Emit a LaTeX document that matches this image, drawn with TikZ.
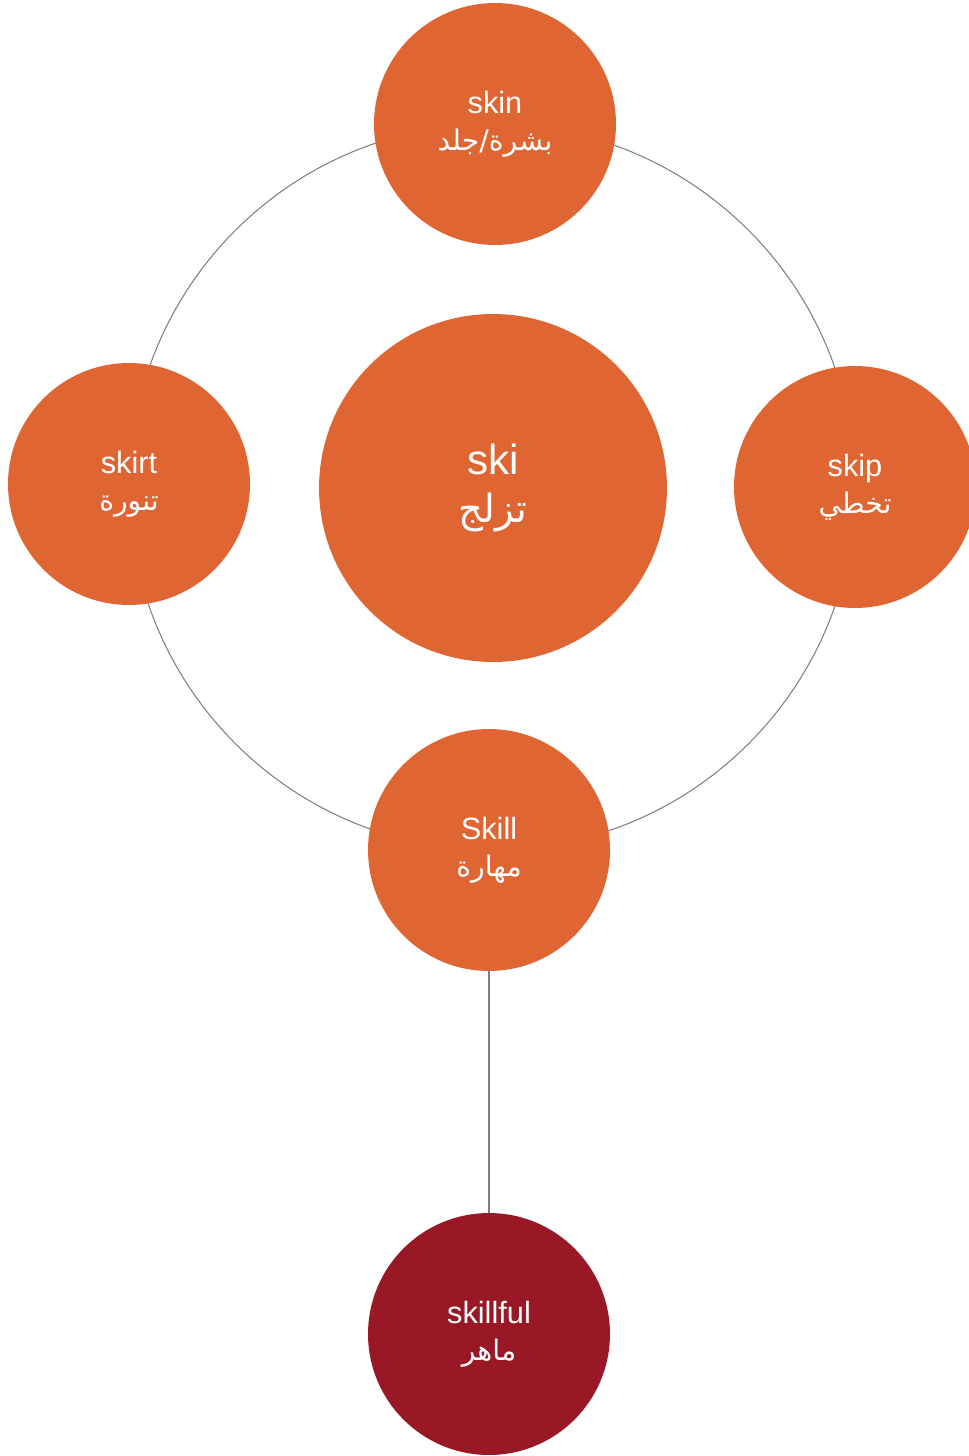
\documentclass[tikz,border=0pt]{standalone}
\usepackage{fontspec}
\setmainfont{Liberation Sans}
\newfontfamily\arabicfont[Script=Arabic,Scale=0.92]{DejaVu Sans}
\TeXXeTstate=1
\definecolor{wordorange}{HTML}{DF6532}
\definecolor{wordred}{HTML}{991826}
\definecolor{ringgray}{HTML}{7F7F7F}

\begin{document}
\begin{tikzpicture}[x=0.02cm, y=-0.02cm,
    word/.style={circle, fill=wordorange, text=white, minimum size=4.84cm, inner sep=0pt,
        align=center, font=\fontsize{17.5}{21}\selectfont},
    rootword/.style={word, minimum size=6.96cm, font=\fontsize{24}{27}\selectfont},
    link/.style={ringgray, line width=0.6pt}]
    \useasboundingbox (0,0) rectangle (969,1456);
    \clip (0,0) rectangle (969,1456);
    % ring behind the words
    \coordinate (hub) at (492,487);
    \draw[link] (hub) circle (7.26cm);
    \node[rootword] (ski) at (493,488) {ski\\\arabicfont\beginR تزلج\endR};
    \node[word] (skin) at (495,124) {skin\\\arabicfont\beginR بشرة/جلد\endR};
    \node[word] (skirt) at (129,484) {skirt\\\arabicfont\beginR تنورة\endR};
    \node[word] (skip) at (855,487) {skip\\\arabicfont\beginR تخطي\endR};
    \node[word] (skill) at (489,850) {Skill\\\arabicfont\beginR مهارة\endR};
    \node[word, fill=wordred] (skillful) at (489,1334) {skillful\\\arabicfont\beginR ماهر\endR};
    \draw[link] (skill) -- (skillful);
\end{tikzpicture}
\end{document}
